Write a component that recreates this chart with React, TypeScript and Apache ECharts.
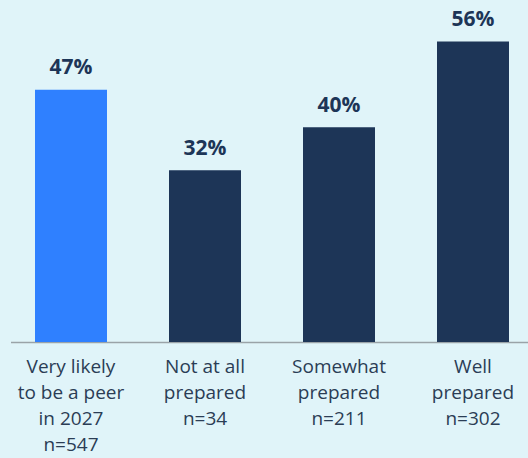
import React, { useEffect, useRef } from "react";
import * as echarts from "echarts";

const categories = [
  "Very likely\nto be a peer\nin 2027\nn=547",
  "Not at all\nprepared\nn=34",
  "Somewhat\nprepared\nn=211",
  "Well\nprepared\nn=302",
];
const values = [47, 32, 40, 56];
const barColors = ["#2f80ff", "#1d3557", "#1d3557", "#1d3557"];

export default function App() {
  const ref = useRef<HTMLDivElement>(null);
  useEffect(() => {
    document.body.style.margin = "0";
    document.body.style.background = "#e0f4f9";
    const chart = echarts.init(ref.current!, null, { renderer: "svg" });
    chart.setOption({
      animation: false,
      backgroundColor: "#e0f4f9",
      grid: { left: 4, right: -12, top: 20, bottom: 116, outerBoundsMode: "none", containLabel: false },
      xAxis: {
        type: "category",
        data: categories,
        axisLine: { show: false },
        axisTick: { show: false },
        axisLabel: {
          color: "#2b3d55",
          fontFamily: "Open Sans",
          fontSize: 19,
          lineHeight: 26,
          margin: 11,
          interval: 0,
        },
      },
      yAxis: {
        type: "value",
        min: 0,
        max: 60,
        show: false,
        splitLine: { show: false },
      },
      graphic: [
        {
          type: "line",
          shape: { x1: 11, y1: 342.5, x2: 528, y2: 342.5 },
          style: { stroke: "#9aa3a8", lineWidth: 1.5 },
        },
      ],
      series: [
        {
          type: "bar",
          data: values.map((v, i) => ({ value: v, itemStyle: { color: barColors[i] } })),
          barWidth: 72,
          label: {
            show: true,
            position: "top",
            distance: 13,
            formatter: "{c}%",
            color: "#1d3557",
            fontFamily: "Open Sans",
            fontWeight: "bold",
            fontSize: 21,
          },
        },
      ],
    });
    return () => chart.dispose();
  }, []);
  return <div ref={ref} style={{ width: 528, height: 458 }} />;
}
